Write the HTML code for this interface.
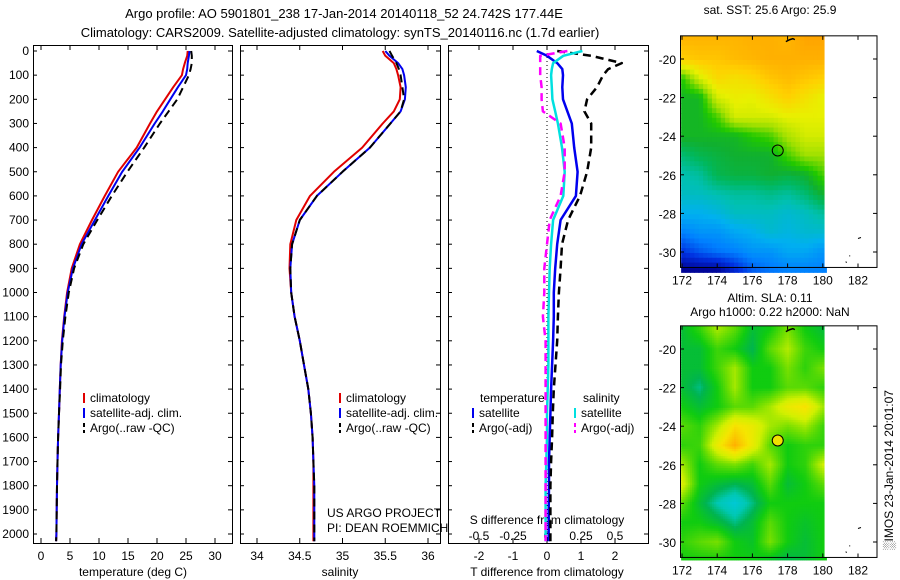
<!DOCTYPE html>
<html><head><meta charset="utf-8">
<style>
html,body{margin:0;padding:0;background:#fff;}
svg{display:block;font-family:"Liberation Sans",sans-serif;}
</style></head>
<body>
<svg id="fig" width="900" height="580" viewBox="0 0 900 580"></svg>
<script>
// ---------- DATA ----------
const depths = [0,20,50,75,100,150,200,250,300,400,500,600,700,800,900,1000,1100,1200,1300,1400,1500,1600,1700,1800,1900,2000,2030];
const tempClim = [25.3,25.2,24.8,24.5,24.3,22.8,21.4,20.0,18.8,16.5,13.3,11.0,8.8,6.7,5.3,4.5,4.0,3.6,3.4,3.25,3.1,2.95,2.85,2.75,2.7,2.65,2.6];
const tempSat = [25.6,25.5,25.3,25.2,25.0,23.6,22.3,21.0,19.6,17.0,14.0,11.6,9.3,7.0,5.5,4.6,4.05,3.65,3.4,3.25,3.1,2.95,2.85,2.75,2.7,2.65,2.6];
const tempArgo = [25.9,26.0,26.0,25.8,25.5,24.5,23.5,22.0,20.5,17.8,14.9,12.2,9.7,7.3,5.7,4.8,4.2,3.75,3.45,3.3,3.1,2.95,2.85,2.75,2.7,2.65,2.6];
const salClim = [35.47,35.5,35.6,35.63,35.65,35.68,35.67,35.6,35.47,35.23,34.9,34.62,34.46,34.39,34.38,34.4,34.44,34.5,34.55,34.6,34.63,34.65,34.66,34.66,34.66,34.66,34.66];
const salSat = [35.5,35.55,35.65,35.7,35.72,35.74,35.73,35.68,35.56,35.32,35.0,34.7,34.5,34.41,34.39,34.4,34.44,34.5,34.55,34.6,34.63,34.65,34.66,34.67,34.67,34.67,34.67];
const salArgo = [35.55,35.58,35.63,35.66,35.68,35.7,35.72,35.68,35.56,35.32,35.0,34.7,34.5,34.41,34.39,34.4,34.44,34.5,34.55,34.6,34.63,34.65,34.66,34.67,34.67,34.67,34.67];
const dTSat = [-0.3,0,0.3,0.45,0.47,0.45,0.47,0.6,0.73,0.8,0.9,0.85,0.4,0.3,0.24,0.2,0.2,0.18,0.15,0.12,0.1,0.08,0.06,0.06,0.05,0.05,0.05];
const dTArgo = [0.3,1.3,2.2,1.8,1.65,1.47,1.18,1.1,1.3,1.3,1.18,0.97,0.62,0.44,0.4,0.35,0.32,0.3,0.25,0.2,0.17,0.15,0.12,0.1,0.1,0.1,0.1];
const dSSat = [0.26,0.12,0.045,0.035,0.03,0.035,0.04,0.06,0.08,0.11,0.13,0.12,0.045,0.03,0.02,0.015,0.01,0.01,0.01,0.005,0,0,-0.005,-0.01,-0.01,-0.01,-0.01];
const dSArgo = [0.15,-0.05,-0.05,-0.05,-0.05,-0.04,-0.04,-0.03,0.1,0.13,0.13,0.1,0.02,0,-0.02,-0.02,-0.03,-0.01,-0.01,-0.01,-0.01,-0.01,-0.01,-0.01,-0.01,-0.01,-0.01];
const depthTicks = [0,100,200,300,400,500,600,700,800,900,1000,1100,1200,1300,1400,1500,1600,1700,1800,1900,2000];
const tempTicks = [0,5,10,15,20,25,30];
const salTicks = [34,34.5,35,35.5,36];
const dTTicks = [-2,-1,0,1,2];
const dSTicks = [-0.5,-0.25,0,0.25,0.5];
const lonTicks = [172,174,176,178,180,182];
const latTicks = [-20,-22,-24,-26,-28,-30];
const gridLons = [172,173,174,175,176,177,178,179,180];
const gridLats = [-19,-20,-21,-22,-23,-24,-25,-26,-27,-28,-29,-30,-31];
const sstGrid = [
[.75,.75,.75,.75,.76,.76,.75,.78,.78],
[.70,.72,.72,.74,.75,.76,.76,.76,.76],
[.48,.60,.68,.66,.68,.72,.74,.72,.70],
[.45,.45,.60,.63,.62,.66,.70,.66,.62],
[.45,.45,.50,.60,.60,.60,.62,.62,.62],
[.45,.45,.45,.45,.48,.50,.56,.60,.60],
[.40,.42,.43,.44,.44,.44,.50,.55,.55],
[.37,.38,.42,.43,.43,.44,.43,.44,.50],
[.36,.36,.37,.38,.38,.39,.38,.40,.44],
[.33,.33,.34,.36,.36,.36,.35,.36,.38],
[.28,.30,.30,.32,.33,.35,.34,.35,.35],
[.22,.25,.27,.28,.30,.30,.32,.32,.30],
[.15,.15,.15,.20,.25,.27,.28,.28,.28]];
const slaGrid = [
[.42,.47,.55,.50,.42,.45,.52,.45,.42],
[.42,.42,.48,.45,.40,.50,.56,.48,.45],
[.42,.42,.48,.55,.45,.45,.52,.47,.52],
[.42,.38,.45,.55,.45,.45,.50,.50,.47],
[.45,.42,.45,.50,.50,.55,.62,.65,.55],
[.50,.47,.55,.65,.62,.55,.52,.55,.48],
[.47,.48,.62,.72,.62,.50,.45,.47,.47],
[.55,.45,.50,.52,.48,.55,.45,.47,.58],
[.60,.45,.42,.40,.42,.50,.42,.45,.50],
[.50,.42,.36,.32,.38,.45,.45,.45,.45],
[.45,.45,.42,.38,.42,.50,.45,.43,.45],
[.47,.50,.52,.45,.43,.52,.45,.42,.45],
[.45,.45,.45,.45,.45,.42,.40,.42,.45]];
const argoLon = 177.44, argoLat = -24.742;

// ---------- HELPERS ----------
const NS = "http://www.w3.org/2000/svg";
const svg = document.getElementById('fig');
function mk(tag, attrs, name, parent){
  const el = document.createElementNS(NS, tag);
  for (const k in attrs) el.setAttribute(k, attrs[k]);
  
  
  (parent||svg).appendChild(el);
  return el;
}
function txt(x,y,s,name,opt){
  opt = opt||{};
  const t = mk('text', {x:x,y:y,'font-size':opt.size||12,'text-anchor':opt.anchor||'start',fill:opt.fill||'#000'}, name, opt.parent);
  if (opt.rot) t.setAttribute('transform', 'rotate('+opt.rot+' '+x+' '+y+')');
  t.textContent = s;
  return t;
}
const yD = d => 51 + d*0.2415;
const PT = 45, PB = 543;
const xT = v => 41 + v*5.8;
const xS = v => 257 + (v-34)*85.5;
const xDT = v => 547 + v*34;
const xDS = v => 547 + v*136;

function profile(xs, vals, color, width, dash, name){
  const pts = vals.map((v,i)=> xs(v).toFixed(1)+','+yD(depths[i]).toFixed(1)).join(' ');
  const a = {points:pts, fill:'none', stroke:color, 'stroke-width':width, 'stroke-linejoin':'round'};
  if (dash) a['stroke-dasharray'] = dash;
  mk('polyline', a, name);
}
function panel(x0,x1,name,xs,ticks,fmt,tickLabelY){
  mk('rect',{x:x0+.5,y:PT+.5,width:x1-x0,height:PB-PT,fill:'#fff',stroke:'#000','stroke-width':1}, name+'-frame');
  depthTicks.forEach(d=>{
    mk('line',{x1:x0,x2:x0+4,y1:yD(d),y2:yD(d),stroke:'#000'}, name+'-y-tick');
    mk('line',{x1:x1-4,x2:x1,y1:yD(d),y2:yD(d),stroke:'#000'}, name+'-y-tick-right');
  });
  ticks.forEach(t=>{
    const x = xs(t);
    mk('line',{x1:x,x2:x,y1:PT,y2:PT+5,stroke:'#000'}, name+'-x-tick-top');
    mk('line',{x1:x,x2:x,y1:PB-5,y2:PB,stroke:'#000'}, name+'-x-tick-bottom');
    if (tickLabelY) txt(x, tickLabelY, fmt(t), name+'-x-tick-label', {anchor:'middle'});
  });
}

// ---------- TITLES ----------
txt(344,18,'Argo profile: AO 5901801_238 17-Jan-2014 20140118_52 24.742S 177.44E','title-line-1',{anchor:'middle',size:13});
txt(340,37,'Climatology: CARS2009. Satellite-adjusted climatology: synTS_20140116.nc (1.7d earlier)','title-line-2',{anchor:'middle',size:13});

// ---------- PANELS ----------
panel(33,232,'temperature-panel',xT,tempTicks,String,560);
panel(240,440,'salinity-panel',xS,salTicks,String,560);
panel(448,648,'difference-panel',xDT,dTTicks,String,560);
dSTicks.forEach(t=> txt(xDS(t),540,String(t),'s-diff-tick-label',{anchor:'middle'}));
depthTicks.forEach(d=> txt(29,yD(d)+4,String(d),'depth-tick-label',{anchor:'end'}));
txt(133,576,'temperature (deg C)','temperature-axis-title',{anchor:'middle'});
txt(340,576,'salinity','salinity-axis-title',{anchor:'middle'});
txt(547,576,'T difference from climatology','t-diff-axis-title',{anchor:'middle'});
txt(547,524,'S difference from climatology','s-diff-axis-title',{anchor:'middle'});
mk('line',{x1:xDT(0),x2:xDT(0),y1:PT,y2:PB,stroke:'#000','stroke-dasharray':'1,3'},'zero-line');

// temperature
profile(xT,tempClim,'#e00000',2,null,'temp-climatology-line');
profile(xT,tempSat,'#0000ee',2,null,'temp-satellite-line');
profile(xT,tempArgo,'#000',2,'8,5','temp-argo-line');
// salinity
profile(xS,salClim,'#e00000',2,null,'sal-climatology-line');
profile(xS,salSat,'#0000ee',2,null,'sal-satellite-line');
profile(xS,salArgo,'#000',2,'8,5','sal-argo-line');
// differences
profile(xDT,dTSat,'#0000ee',2.5,null,'t-diff-satellite-line');
profile(xDT,dTArgo,'#000',2.5,'8,5','t-diff-argo-line');
profile(xDS,dSSat,'#00e0e0',2.5,null,'s-diff-satellite-line');
profile(xDS,dSArgo,'#ff00ff',2.5,'8,5','s-diff-argo-line');

// legends
function legEntry(x,y,color,dash,label,name){
  const a={x1:x,x2:x,y1:y-9,y2:y+1,stroke:color,'stroke-width':2};
  if(dash) a['stroke-dasharray']='4,3';
  mk('line',a,name+'-swatch');
  txt(x+6,y,label,name,{size:12});
}
[[84,'temperature-legend'],[340,'salinity-legend']].forEach(([x,n])=>{
  legEntry(x,402,'#e00000',null,'climatology',n+'-climatology');
  legEntry(x,417,'#0000ee',null,'satellite-adj. clim.',n+'-satellite');
  legEntry(x,432,'#000','d','Argo(..raw -QC)',n+'-argo');
});
txt(480,402,'temperature','diff-legend-temperature-header');
txt(583,402,'salinity','diff-legend-salinity-header');
legEntry(473,417,'#0000ee',null,'satellite','diff-legend-t-satellite');
legEntry(473,432,'#000','d','Argo(-adj)','diff-legend-t-argo');
legEntry(575,417,'#00e0e0',null,'satellite','diff-legend-s-satellite');
legEntry(575,432,'#ff00ff','d','Argo(-adj)','diff-legend-s-argo');
txt(327,517,'US ARGO PROJECT','project-label');
txt(327,532,'PI: DEAN ROEMMICH','pi-label');

// ---------- MAPS ----------
const sstStops = [[0.15,[0,0,144]],[0.22,[0,48,224]],[0.28,[0,128,255]],[0.33,[0,176,240]],[0.37,[0,192,176]],[0.41,[0,184,96]],[0.44,[16,176,48]],[0.48,[32,200,0]],[0.55,[160,224,0]],[0.62,[232,240,0]],[0.70,[255,208,0]],[0.76,[255,176,0]],[0.85,[255,128,0]]];
const slaStops = [[0.30,[0,200,230]],[0.36,[0,200,180]],[0.40,[0,180,80]],[0.45,[16,204,16]],[0.52,[120,224,0]],[0.58,[210,240,0]],[0.64,[245,230,0]],[0.72,[255,176,0]],[0.85,[255,120,0]]];
function cmap(stops,v){
  if(v<=stops[0][0]) return 'rgb('+stops[0][1]+')';
  for(let i=1;i<stops.length;i++){
    if(v<=stops[i][0]){
      const [a,ca]=stops[i-1],[b,cb]=stops[i],f=(v-a)/(b-a);
      return 'rgb('+ca.map((c,k)=>Math.round(c+(cb[k]-c)*f)).join(',')+')';
    }
  }
  return 'rgb('+stops[stops.length-1][1]+')';
}
function sample(grid,lon,lat){
  let fi=(lon-gridLons[0]); fi=Math.max(0,Math.min(gridLons.length-1.0001,fi));
  let fj=(gridLats[0]-lat); fj=Math.max(0,Math.min(gridLats.length-1.0001,fj));
  const i=Math.floor(fi),j=Math.floor(fj),u=fi-i,w=fj-j;
  return grid[j][i]*(1-u)*(1-w)+grid[j][i+1]*u*(1-w)+grid[j+1][i]*(1-u)*w+grid[j+1][i+1]*u*w;
}
const xL = lon => 682 + (lon-172)*17.6;
function drawMap(y0,grid,stops,step,name,markerFill){
  const yL = lat => y0 + (-20-lat)*19.3;
  const top=yL(-18.8), bot=yL(-30.8);
  const g = mk('g',{},name+'-cells');
  for(let lat=-18.8; lat>-30.8-1e-6; lat-=step){
    for(let lon=171.95; lon<180.1; lon+=step){
      const v = sample(grid, lon+step/2, lat-step/2);
      const r = mk('rect',{x:xL(lon).toFixed(2),y:yL(lat).toFixed(2),width:(step*17.6+0.6).toFixed(2),height:(step*19.3+0.6).toFixed(2),fill:cmap(stops,v)},name+'-cell',g);
    }
  }
  mk('rect',{x:xL(180.1),y:top,width:877-xL(180.1),height:bot-top,fill:'#fff'},name+'-land-mask');
  mk('rect',{x:680.5,y:top,width:196.5,height:bot-top,fill:'none',stroke:'#000'},name+'-frame');
  latTicks.forEach(l=>{
    mk('line',{x1:680,x2:684,y1:yL(l),y2:yL(l),stroke:'#000'},name+'-lat-tick');
    mk('line',{x1:873,x2:877,y1:yL(l),y2:yL(l),stroke:'#000'},name+'-lat-tick-right');
    txt(676,yL(l)+5,String(l),name+'-lat-label',{anchor:'end',size:12});
  });
  lonTicks.forEach(l=>{
    mk('line',{x1:xL(l),x2:xL(l),y1:top,y2:top+4,stroke:'#000'},name+'-lon-tick');
    mk('line',{x1:xL(l),x2:xL(l),y1:bot-4,y2:bot,stroke:'#000'},name+'-lon-tick-bottom');
    txt(xL(l),bot+17,String(l),name+'-lon-label',{anchor:'middle',size:12});
  });
  mk('path',{d:'M'+xL(177.9)+' '+yL(-19.1)+' l4 -2 l3 -1 l2 1',fill:'none',stroke:'#000','stroke-width':1.5},name+'-island-north');
  mk('path',{d:'M'+xL(182)+' '+yL(-29.3)+' l3 -1 M'+xL(181.5)+' '+yL(-30.2)+' l1 0 M'+xL(181.3)+' '+yL(-30.5)+' l1 1',fill:'none',stroke:'#000','stroke-width':1},name+'-island-south');
  mk('circle',{cx:xL(argoLon),cy:yL(argoLat),r:5.5,fill:markerFill,stroke:'#000','stroke-width':1},name+'-argo-marker');
}
drawMap(59,sstGrid,sstStops,0.25,'sst-map','none');
drawMap(349,slaGrid,slaStops,0.125,'sla-map','#f0e000');
txt(770,14,'sat. SST: 25.6 Argo: 25.9','sst-map-title',{anchor:'middle'});
txt(770,302,'Altim. SLA: 0.11','sla-map-title',{anchor:'middle'});
txt(770,316,'Argo h1000: 0.22 h2000: NaN','sla-map-subtitle',{anchor:'middle'});
txt(893,470,'\u2591IMOS 23-Jan-2014 20:01:07','imos-timestamp',{anchor:'middle',rot:-90});
</script>
</body></html>
